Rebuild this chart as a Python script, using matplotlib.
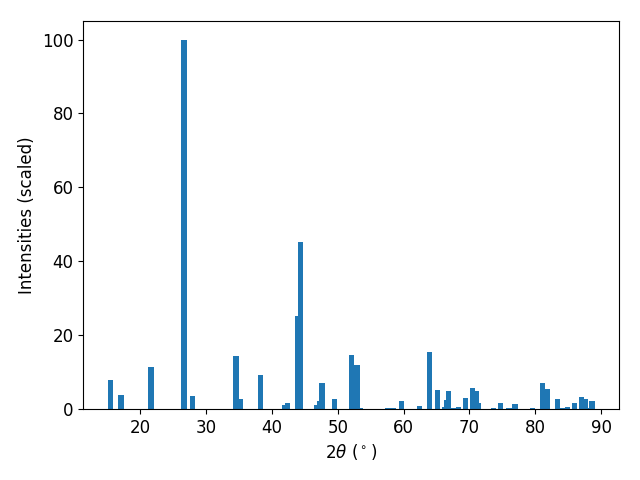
import matplotlib
matplotlib.use('Agg')
import matplotlib.pyplot as plt

# peak positions (2theta, degrees) and scaled intensities
two_theta = [15.4, 17.04, 21.6, 26.6, 27.9, 34.5, 35.2, 38.2,
             41.9, 42.4, 43.9, 44.37, 46.8, 47.3, 47.6, 49.5,
             52.1, 52.9, 53.4, 57.6, 58.5, 59.7, 62.4, 63.95,
             65.1, 66.2, 66.5, 66.85, 67.6, 68.3, 69.4, 70.5,
             71.1, 71.4, 73.7, 74.7, 76.0, 76.9, 79.6, 81.1,
             81.9, 83.4, 84.2, 84.9, 85.95, 87.0, 87.6, 88.1, 88.6]
intensities = [7.9, 3.8, 11.4, 100.0, 3.5, 14.4, 2.7, 9.2,
               1.1, 1.6, 25.2, 45.3, 1.1, 2.1, 7.0, 2.7,
               14.6, 11.9, 0.3, 0.3, 0.3, 2.2, 0.8, 15.4,
               5.1, 0.6, 2.4, 4.9, 0.3, 0.6, 3.0, 5.7,
               4.9, 1.6, 0.3, 1.6, 0.3, 1.4, 0.3, 7.0,
               5.4, 2.7, 0.3, 0.6, 1.6, 3.3, 2.7, 0.3, 2.2]

plt.rcParams['font.size'] = 12

fig = plt.figure(figsize=(6.4, 4.8), dpi=100)
plt.bar(two_theta, intensities)
plt.xlabel(r'$2\theta$ ($^\circ$)')
plt.ylabel('Intensities (scaled)')
plt.subplots_adjust(left=0.13, right=0.967, top=0.956, bottom=0.148)
plt.savefig('out.png')
